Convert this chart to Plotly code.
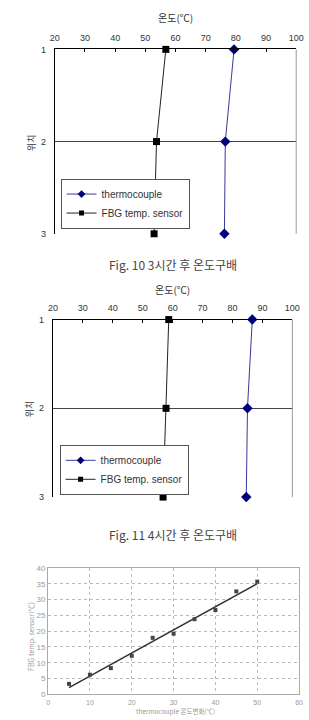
import numpy as np
import plotly.graph_objects as go

# ---------------- data ----------------
positions = [1, 2, 3]
temp_ticks = [20, 30, 40, 50, 60, 70, 80, 90, 100]

fig10_thermo = [79.4, 76.5, 76.2]
fig10_fbg = [56.8, 53.7, 52.9]

fig11_thermo = [86.6, 85.0, 84.6]
fig11_fbg = [58.7, 57.8, 56.8]

cal_thermo = [5, 10, 15, 20, 25, 30, 35, 40, 45, 50]
cal_fbg = [3.3, 6.2, 8.3, 12.2, 17.9, 19.2, 23.8, 26.7, 32.6, 35.7]

W, H = 309, 720
FONT = "Noto Sans CJK KR"
LATIN = "Liberation Sans, Arial, Noto Sans CJK KR"
NAVY = "#00007a"
BLUE_LINE = "#3a3a9a"


def px_x(p):
    return p / W


def px_y(p):
    return 1 - p / H


fig = go.Figure()

def profile(thermo, fbg, xa, ya, leg):
    fig.add_trace(go.Scatter(
        x=thermo, y=positions, mode="lines+markers", name="thermocouple",
        line=dict(color=BLUE_LINE, width=1),
        marker=dict(symbol="diamond", size=8, color=NAVY),
        xaxis=xa, yaxis=ya, showlegend=False, cliponaxis=False))
    fig.add_trace(go.Scatter(
        x=fbg, y=positions, mode="lines+markers", name="FBG temp. sensor",
        line=dict(color="#222222", width=1),
        marker=dict(symbol="square", size=7, color="#000000"),
        xaxis=xa, yaxis=ya, showlegend=False, cliponaxis=False))
    # legend entries (smaller symbols, as in the original legend)
    fig.add_trace(go.Scatter(
        x=[None], y=[None], mode="lines+markers", name="thermocouple",
        line=dict(color=BLUE_LINE, width=1),
        marker=dict(symbol="diamond", size=6, color=NAVY),
        xaxis=xa, yaxis=ya, legend=leg))
    fig.add_trace(go.Scatter(
        x=[None], y=[None], mode="lines+markers", name="FBG temp. sensor",
        line=dict(color="#222222", width=1),
        marker=dict(symbol="square", size=5, color="#000000"),
        xaxis=xa, yaxis=ya, legend=leg))

profile(fig10_thermo, fig10_fbg, "x", "y", "legend")
profile(fig11_thermo, fig11_fbg, "x2", "y2", "legend2")

# ---------------- calibration scatter ----------------
slope, intercept = np.polyfit(cal_thermo, cal_fbg, 1)
fit_x = [min(cal_thermo), max(cal_thermo)]
fit_y = [slope * v + intercept for v in fit_x]
fig.add_trace(go.Scatter(
    x=fit_x, y=fit_y, mode="lines", showlegend=False,
    line=dict(color="#333333", width=1.6), xaxis="x3", yaxis="y3"))
fig.add_trace(go.Scatter(
    x=cal_thermo, y=cal_fbg, mode="markers", showlegend=False,
    marker=dict(symbol="square", size=4, color="#444444"),
    xaxis="x3", yaxis="y3", cliponaxis=False))

tickfont = dict(family=LATIN, size=9, color="#333333")

def temp_xaxis(domain, anchor):
    return dict(domain=domain, anchor=anchor, side="top", range=[20, 100],
                tickvals=temp_ticks, ticks="inside", ticklen=3, tickcolor="#000",
                showline=True, linecolor="#000", linewidth=1, showgrid=False,
                zeroline=False, tickfont=tickfont, ticklabelstandoff=4)

def pos_yaxis(domain, anchor):
    return dict(domain=domain, anchor=anchor, range=[3, 1], tickvals=positions,
                showline=True, linecolor="#000", linewidth=1, showgrid=True,
                gridcolor="#444444", gridwidth=1, zeroline=False, ticks="",
                tickfont=tickfont, ticklabelstandoff=6)

d1x = [px_x(52), px_x(304)]
d1y = [px_y(232), px_y(45)]
d2x = [px_x(50), px_x(300)]
d2y = [px_y(499), px_y(319)]
d3x = [px_x(45), px_x(307)]
d3y = [px_y(699), px_y(571)]

legend_style = dict(bgcolor="white", bordercolor="#555555", borderwidth=1,
                    font=dict(family=LATIN, size=10, color="#333333"),
                    xanchor="left", yanchor="top", itemwidth=30,
                    traceorder="normal")

gray_tick = dict(family=LATIN, size=8, color="#999999")
gray_tick_x = dict(family=LATIN, size=7, color="#999999")

fig.update_layout(
    width=W, height=H, margin=dict(l=0, r=0, t=0, b=0),
    paper_bgcolor="white", plot_bgcolor="white",
    font=dict(family=FONT),
    xaxis=temp_xaxis(d1x, "y"),
    yaxis=pos_yaxis(d1y, "x"),
    xaxis2=temp_xaxis(d2x, "y2"),
    yaxis2=pos_yaxis(d2y, "x2"),
    xaxis3=dict(domain=d3x, anchor="y3", range=[0, 60], tickvals=list(range(0, 61, 10)),
                showgrid=True, gridcolor="#bbbbbb", griddash="dot", gridwidth=1,
                showline=True, mirror=True, linecolor="#aaaaaa", zeroline=False,
                ticks="", tickfont=gray_tick_x, ticklabelstandoff=1),
    yaxis3=dict(domain=d3y, anchor="x3", range=[0, 40], tickvals=list(range(0, 41, 5)),
                showgrid=True, gridcolor="#bbbbbb", griddash="dot", gridwidth=1,
                showline=True, mirror=True, linecolor="#aaaaaa", zeroline=False,
                ticks="", tickfont=gray_tick),
    legend=dict(x=px_x(58), y=px_y(176), **legend_style),
    legend2=dict(x=px_x(57), y=px_y(446), **legend_style),
    showlegend=True,
)

# right-hand frame lines (grey) of the two profile charts
for xr, yr in (("x domain", "y domain"), ("x2 domain", "y2 domain")):
    fig.add_shape(type="line", xref=xr, yref=yr, x0=1, x1=1, y0=0, y1=1,
                  line=dict(color="#999999", width=1))

ann = []
def text(x, y, s, size, color="#333333", angle=0, family=FONT):
    ann.append(dict(x=px_x(x), y=px_y(y), xref="paper", yref="paper", text=s,
                    showarrow=False, textangle=angle, xanchor="center",
                    yanchor="middle", font=dict(family=family, size=size, color=color)))

text(178, 13, "온도(℃)", 10)
text(27, 139, "위치", 9, angle=-90)
text(175, 263, "Fig. 10 3시간 후 온도구배", 12, "#444444")

text(175, 288, "온도(℃)", 10)
text(25, 409, "위치", 9, angle=-90)
text(175, 537, "Fig. 11 4시간 후 온도구배", 12, "#444444")

text(27, 640, "FBG temp. sensor(℃)", 7, "#999999", angle=-90)
text(178, 715.5, "thermocouple 온도변화(℃)", 6.5, "#999999")

fig.update_layout(annotations=ann)

fig.write_html("out.html")
